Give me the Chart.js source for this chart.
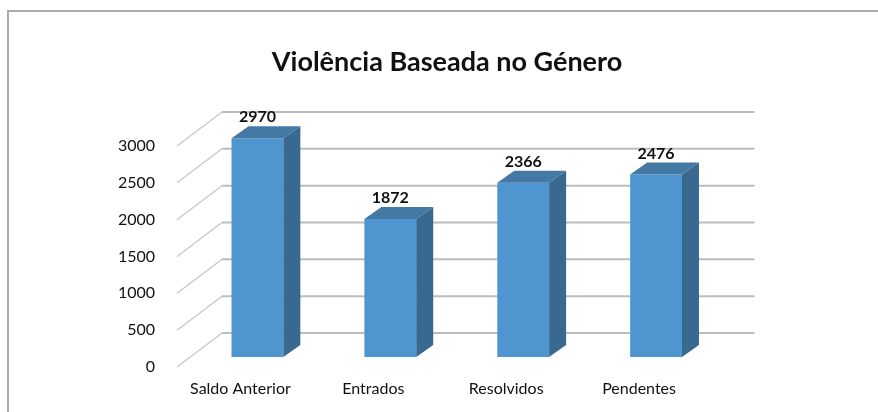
<!DOCTYPE html>
<html>
<head>
<meta charset="utf-8">
<script src="https://cdn.jsdelivr.net/npm/chart.js@4.4.0/dist/chart.umd.min.js"></script>
<style>
  html, body { margin: 0; padding: 0; background: #fff; }
  #wrap { width: 878px; height: 412px; position: relative; }
</style>
</head>
<body>
<div id="wrap"><canvas id="bar-chart-3d"></canvas></div>
<script>
var categorias = ["Saldo Anterior", "Entrados", "Resolvidos", "Pendentes"];
var valores = [2970, 1872, 2366, 2476];
var escalaY = { min: 0, max: 3000, passo: 500 };

var fonte = "Lato, 'Open Sans', sans-serif";
var corFrente = "#4f95d0";
var corLado = "#39698f";
var corTopo = "#4379a3";

// profundidade das barras e da parede de fundo
var prof = { dx: 17, dy: -12 };

var moldura = {
    id: 'moldura',
    beforeDraw: function(chart) {
        var ctx = chart.ctx;
        ctx.save();
        ctx.strokeStyle = "#aaaaaa";
        ctx.lineWidth = 2;
        ctx.beginPath();
        ctx.moveTo(8, chart.height);
        ctx.lineTo(8, 11);
        ctx.lineTo(chart.width, 11);
        ctx.stroke();
        ctx.restore();
    }
};

var barras3d = {
    id: 'barras3d',
    beforeDatasetsDraw: function(chart) {
        var ctx = chart.ctx;
        var y = chart.scales.y;
        var a = chart.chartArea;
        ctx.save();
        y.ticks.forEach(function(t) {
            var py = y.getPixelForValue(t.value);
            // linha da parede de fundo
            ctx.strokeStyle = "#bcbcbc";
            ctx.lineWidth = 2;
            ctx.beginPath();
            ctx.moveTo(a.left + 31, py - 24);
            ctx.lineTo(a.right + 32, py - 24);
            ctx.stroke();
            // diagonal da parede lateral
            ctx.strokeStyle = "#c6c6c6";
            ctx.lineWidth = 1.2;
            ctx.beginPath();
            ctx.moveTo(a.left - 14, py + 10);
            ctx.lineTo(a.left + 31, py - 24);
            ctx.stroke();
        });
        ctx.restore();
    },
    afterDatasetsDraw: function(chart) {
        var ctx = chart.ctx;
        var meta = chart.getDatasetMeta(0);
        ctx.save();
        meta.data.forEach(function(b, i) {
            var l = b.x - b.width / 2, r = b.x + b.width / 2;
            var t = b.y, base = b.base;
            // lado
            ctx.fillStyle = corLado;
            ctx.beginPath();
            ctx.moveTo(r, t);
            ctx.lineTo(r + prof.dx, t + prof.dy);
            ctx.lineTo(r + prof.dx, base + prof.dy);
            ctx.lineTo(r, base);
            ctx.closePath();
            ctx.fill();
            // topo
            ctx.fillStyle = corTopo;
            ctx.beginPath();
            ctx.moveTo(l, t);
            ctx.lineTo(l + prof.dx, t + prof.dy);
            ctx.lineTo(r + prof.dx, t + prof.dy);
            ctx.lineTo(r, t);
            ctx.closePath();
            ctx.fill();
            // valor
            ctx.fillStyle = "#111";
            ctx.font = "bold 16px " + fonte;
            ctx.textAlign = "center";
            ctx.textBaseline = "bottom";
            ctx.fillText(valores[i], b.x, t + prof.dy - 1);
        });
        ctx.restore();
    }
};

new Chart(document.getElementById("bar-chart-3d"), {
    type: 'bar',
    data: {
        labels: categorias,
        datasets: [{
            data: valores,
            backgroundColor: corFrente,
            borderWidth: 0,
            barPercentage: 0.39,
            categoryPercentage: 1
        }]
    },
    options: {
        responsive: true,
        maintainAspectRatio: false,
        animation: false,
        layout: { padding: { left: 16, right: 0, top: 0, bottom: 0 } },
        plugins: {
            legend: { display: false },
            tooltip: { enabled: false },
            title: {
                display: true,
                text: 'Violência Baseada no Género',
                color: '#111',
                font: { family: fonte, size: 27, weight: 'bold' },
                padding: { top: 46, bottom: 57.6 }
            }
        },
        scales: {
            x: {
                grid: { display: false, drawTicks: false },
                border: { display: false },
                ticks: {
                    color: '#111',
                    font: { family: fonte, size: 16 },
                    padding: 22,
                    labelOffset: -17
                },
                afterFit: function(scale) { scale.height = 55; }
            },
            y: {
                min: escalaY.min,
                max: escalaY.max,
                grid: { display: false, drawTicks: false },
                border: { display: false },
                ticks: {
                    stepSize: escalaY.passo,
                    color: '#111',
                    font: { family: fonte, size: 16 },
                    padding: 36,
                    labelOffset: 10,
                    callback: function(v) { return String(v); }
                },
                afterFit: function(scale) { scale.width = 175; }
            },
            // margem direita, so para deixar o titulo centrado na moldura
            margem: {
                type: 'linear',
                position: 'right',
                grid: { display: false, drawTicks: false },
                border: { display: false },
                ticks: { display: false },
                afterFit: function(scale) { scale.width = 155.5; }
            }
        }
    },
    plugins: [moldura, barras3d]
});
</script>
</body>
</html>
